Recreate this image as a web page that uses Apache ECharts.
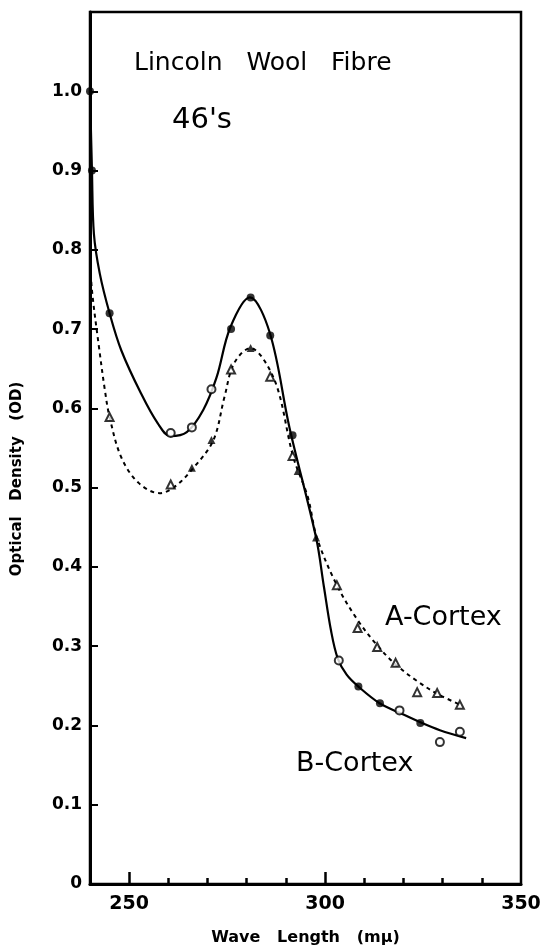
<!DOCTYPE html>
<html lang="en">
<head>
    <meta charset="UTF-8">
    <title>Lincoln Wool Fibre</title>
    <script src="https://cdn.jsdelivr.net/npm/echarts@6/dist/echarts.min.js"></script>
    <style>
        html, body { margin: 0; padding: 0; background: #fff; }
        #main { width: 547px; height: 951px; }
    </style>
</head>
<body>
<div id="main"></div>
<script type="text/javascript">
    // B-Cortex: solid curve (traced) and measured points
    var bCurveX = [240, 240.5, 241, 242.5, 245, 248, 253, 257.3, 260.5, 264.7, 268.9, 272.3, 275.8, 280.8, 285.9, 290.9, 297.7, 299.7, 301.5, 303.2, 305.5, 308.5, 313.9, 319, 324.3, 329.3, 336];
    var bCurveY = [1.0, 0.9, 0.82, 0.77, 0.72, 0.673, 0.619, 0.581, 0.565, 0.57, 0.598, 0.639, 0.702, 0.74, 0.695, 0.576, 0.437, 0.375, 0.32, 0.285, 0.264, 0.249, 0.228, 0.216, 0.204, 0.194, 0.184];
    var bPointX = [240, 240.5, 245, 260.6, 266, 271, 276, 281, 286, 291.7, 303.5, 308.5, 314, 319, 324.3, 329.3, 334.4];
    var bPointY = [1.0, 0.9, 0.72, 0.569, 0.576, 0.624, 0.70, 0.74, 0.692, 0.566, 0.282, 0.249, 0.228, 0.219, 0.203, 0.179, 0.192];
    var bPointKind = ['f', 'f', 'f', 'o', 'o', 'o', 'f', 'f', 'f', 'f', 'o', 'f', 'f', 'o', 'f', 'o', 'o'];

    // A-Cortex: dotted curve (traced) and measured points
    var aCurveX = [240, 240.5, 242.3, 243.8, 245, 248, 252.4, 257.8, 261.6, 266.6, 271.5, 274.3, 276.8, 281, 284.4, 288, 291.8, 295.6, 297.9, 303, 308.3, 313.3, 318, 323.5, 328.6, 335];
    var aCurveY = [0.79, 0.749, 0.677, 0.623, 0.589, 0.538, 0.506, 0.493, 0.501, 0.526, 0.56, 0.614, 0.657, 0.676, 0.661, 0.623, 0.54, 0.488, 0.437, 0.377, 0.333, 0.301, 0.277, 0.256, 0.24, 0.225];
    var aPointX = [245, 260.6, 266, 271, 276, 281, 286, 291.7, 293, 297.7, 303, 308.3, 313.3, 318, 323.5, 328.6, 334.4];
    var aPointY = [0.589, 0.504, 0.525, 0.56, 0.649, 0.676, 0.64, 0.54, 0.521, 0.437, 0.377, 0.323, 0.299, 0.279, 0.242, 0.241, 0.226];
    var aPointKind = ['o', 'o', 'f', 'f', 'o', 'f', 'o', 'o', 'f', 'f', 'o', 'o', 'o', 'o', 'o', 'o', 'o'];

    var xMajorTicks = [250, 300];
    var xMinorTicks = [260, 270, 280, 290, 310, 320, 330, 340];
    var xLabels = [250, 300, 350];

    function pairs(xs, ys) {
        var out = [];
        for (var i = 0; i < xs.length; i++) out.push([xs[i], ys[i]]);
        return out;
    }

    function markers(xs, ys, kinds, shape) {
        var out = [];
        for (var i = 0; i < xs.length; i++) {
            var filled = kinds[i] == 'f';
            out.push({
                value: [xs[i], ys[i]],
                symbol: filled ? shape : 'empty' + shape.charAt(0).toUpperCase() + shape.slice(1),
                itemStyle: filled ? { color: '#000' } : { color: '#000', borderColor: '#000', borderWidth: 1.8 }
            });
        }
        return out;
    }

    var font = 'DejaVu Sans';
    var myChart = echarts.init(document.getElementById('main'));

    var option = {
        animation: false,
        backgroundColor: '#fff',
        grid: {
            left: 90, right: 26, top: 12, bottom: 67,
            show: true, borderColor: '#000', borderWidth: 2.5
        },
        xAxis: [{
            type: 'value', min: 240, max: 350,
            axisLine: { lineStyle: { color: '#000', width: 3 } },
            splitLine: { show: false },
            axisTick: { inside: true, length: 12, customValues: xMajorTicks, lineStyle: { color: '#000', width: 2.5 } },
            axisLabel: { customValues: xLabels, color: '#000', fontFamily: font, fontWeight: 'bold', fontSize: 19, margin: 11 },
            name: 'Wave   Length   (mμ)',
            nameLocation: 'middle', nameGap: 46,
            nameTextStyle: { color: '#000', fontFamily: font, fontWeight: 'bold', fontSize: 16 }
        }, {
            type: 'value', min: 240, max: 350, position: 'bottom',
            axisLine: { show: false },
            splitLine: { show: false },
            axisTick: { inside: true, length: 6, customValues: xMinorTicks, lineStyle: { color: '#000', width: 2.5 } },
            axisLabel: { show: false }
        }],
        yAxis: {
            type: 'value', min: 0, max: 1.1, interval: 0.1,
            axisLine: { lineStyle: { color: '#000', width: 3 } },
            splitLine: { show: false },
            axisTick: { inside: true, length: 8, lineStyle: { color: '#000', width: 2 } },
            axisLabel: {
                showMaxLabel: false, color: '#000', fontFamily: font, fontWeight: 'bold', fontSize: 17, margin: 8,
                formatter: function (v) { return v == 0 ? '0' : v.toFixed(1); }
            }
        },
        graphic: [
            { type: 'text', left: 134, top: 51, style: { text: 'Lincoln   Wool   Fibre', font: '25px "DejaVu Sans"', fill: '#000' } },
            { type: 'text', left: 172, top: 106, style: { text: "46's", font: '29px "DejaVu Sans"', fill: '#000' } },
            { type: 'text', left: 385, top: 604, style: { text: 'A-Cortex', font: '27px "DejaVu Sans"', fill: '#000' } },
            { type: 'text', left: 296, top: 750, style: { text: 'B-Cortex', font: '27px "DejaVu Sans"', fill: '#000' } },
            { type: 'text', x: 17, y: 479, rotation: Math.PI / 2,
              style: { text: 'Optical   Density   (OD)', font: 'bold 15px "DejaVu Sans"', fill: '#000', textAlign: 'center', textVerticalAlign: 'middle' } }
        ],
        series: [{
            name: 'B-Cortex curve', type: 'line', smooth: 0.35, symbol: 'none',
            lineStyle: { color: '#000', width: 2.2 },
            data: pairs(bCurveX, bCurveY), z: 3
        }, {
            name: 'A-Cortex curve', type: 'line', smooth: 0.35, symbol: 'none',
            lineStyle: { color: '#000', width: 2, type: [4, 4] },
            data: pairs(aCurveX, aCurveY), z: 3
        }, {
            name: 'B-Cortex', type: 'scatter', symbolSize: 8,
            data: markers(bPointX, bPointY, bPointKind, 'circle'), z: 4
        }, {
            name: 'A-Cortex', type: 'scatter', symbolSize: 8,
            data: markers(aPointX, aPointY, aPointKind, 'triangle'), z: 4
        }]
    };
    myChart.setOption(option);
</script>
</body>
</html>
